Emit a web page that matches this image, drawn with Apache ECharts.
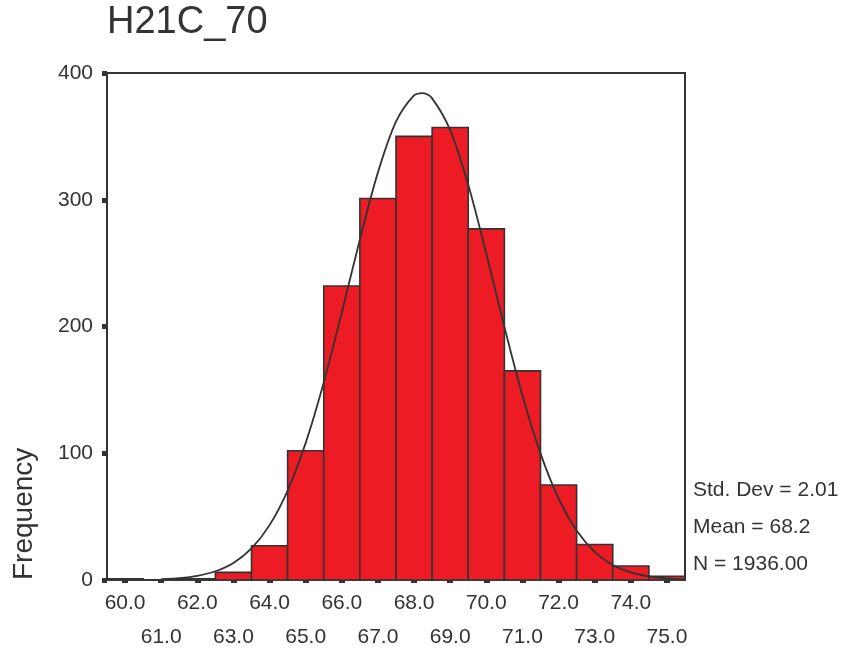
<!DOCTYPE html>
<html>
<head>
<meta charset="utf-8">
<script src="https://cdn.jsdelivr.net/npm/echarts@6/dist/echarts.min.js"></script>
<style>
html,body{margin:0;padding:0;background:#fff;}
#chart{width:841px;height:652px;}
</style>
</head>
<body>
<div id="chart"></div>
<script>
// ---- data ----
const chartTitle = 'H21C_70';
const binCenters = [60, 61, 62, 63, 64, 65, 66, 67, 68, 69, 70, 71, 72, 73, 74, 75];
const frequencies = [1, 0, 1, 6, 27, 102, 232, 301, 350, 357, 277, 165, 75, 28, 11, 3];
const curveX = [61.0, 61.5, 62.0, 62.5, 63.0, 63.5, 64.0, 64.5, 65.0, 65.5, 66.0, 66.5, 67.0, 67.5, 68.0, 68.25, 68.5, 69.0, 69.5, 70.0, 70.5, 71.0, 71.5, 72.0, 72.5, 73.0, 73.5, 74.0, 74.5, 75.0, 75.5];
const curveY = [0.6, 1.5, 3.3, 6.9, 13.5, 25.0, 43.3, 70.6, 108.2, 155.9, 211.1, 268.7, 321.6, 361.7, 382.4, 384.2, 380.0, 355.0, 311.8, 257.4, 199.7, 145.6, 99.9, 64.3, 39.0, 22.2, 11.9, 6.0, 2.8, 1.3, 0.5];
const xTickValues = [60, 61, 62, 63, 64, 65, 66, 67, 68, 69, 70, 71, 72, 73, 74, 75];
const xLabelsRow1 = [60, 62, 64, 66, 68, 70, 72, 74];
const xLabelsRow2 = [61, 63, 65, 67, 69, 71, 73, 75];
const statLines = ['Std. Dev = 2.01', 'Mean = 68.2', 'N = 1936.00'];
const yAxisName = 'Frequency';

const barData = binCenters.map((c, i) => [c, frequencies[i]]);
const curveData = curveX.map((x, i) => [x, curveY[i]]);

const FONT = '"Liberation Sans", Arial, sans-serif';
const TXT = '#333333';
const fmt = v => Number(v).toFixed(1);

const chart = echarts.init(document.getElementById('chart'));
chart.setOption({
  animation: false,
  backgroundColor: '#ffffff',
  grid: { left: 107, right: 156, top: 73, bottom: 72, show: true, borderColor: '#333', borderWidth: 2, backgroundColor: 'transparent', containLabel: false, outerBoundsMode: 'none' },
  xAxis: [
    {
      type: 'value', min: 59.5, max: 75.5, position: 'bottom',
      axisLine: { show: true, lineStyle: { color: '#555', width: 1 } },
      splitLine: { show: false },
      axisTick: { show: true, customValues: xTickValues, length: 3, lineStyle: { color: '#333', width: 6, cap: 'butt' } },
      axisLabel: {
        customValues: xLabelsRow1,
        showMinLabel: true, showMaxLabel: true, hideOverlap: false,
        margin: 9, fontSize: 21, color: TXT, fontFamily: FONT, lineHeight: 28,
        formatter: fmt
      }
    },
    {
      type: 'value', min: 59.5, max: 75.5, position: 'bottom',
      axisLine: { show: false },
      splitLine: { show: false },
      axisTick: { show: false },
      axisLabel: {
        customValues: xLabelsRow2,
        showMinLabel: true, showMaxLabel: true, hideOverlap: false,
        margin: 43, fontSize: 21, color: TXT, fontFamily: FONT, lineHeight: 28,
        formatter: fmt
      }
    }
  ],
  yAxis: {
    type: 'value', min: 0, max: 400, interval: 100,
    axisLine: { show: true, lineStyle: { color: '#333', width: 2 } },
    splitLine: { show: false },
    axisTick: { show: true, length: 5, lineStyle: { color: '#333', width: 5 } },
    axisLabel: { margin: 14, fontSize: 21, color: TXT, fontFamily: FONT }
  },
  series: [
    {
      type: 'custom',
      xAxisIndex: 0,
      data: barData,
      z: 2,
      renderItem: function (params, api) {
        const x = api.value(0), y = api.value(1);
        const p0 = api.coord([x - 0.5, y]);
        const p1 = api.coord([x + 0.5, 0]);
        return {
          type: 'rect',
          shape: { x: p0[0], y: p0[1], width: p1[0] - p0[0], height: p1[1] - p0[1] },
          style: { fill: '#ED1C24', stroke: '#333', lineWidth: 1.6 }
        };
      }
    },
    {
      type: 'line',
      xAxisIndex: 0,
      data: curveData,
      smooth: 0.3,
      showSymbol: false,
      z: 5,
      lineStyle: { color: '#333', width: 1.8 }
    }
  ],
  graphic: [
    { type: 'text', left: 107, top: 4, style: { text: chartTitle, font: '38px ' + FONT, fill: TXT } },
    { type: 'text', x: 24, y: 580, rotation: Math.PI / 2, style: { text: yAxisName, font: '28px ' + FONT, fill: TXT, textAlign: 'left', textVerticalAlign: 'middle' } },
    { type: 'text', x: 693, y: 490, style: { text: statLines[0], font: '21px ' + FONT, fill: TXT, textAlign: 'left', textVerticalAlign: 'middle' } },
    { type: 'text', x: 693, y: 527, style: { text: statLines[1], font: '21px ' + FONT, fill: TXT, textAlign: 'left', textVerticalAlign: 'middle' } },
    { type: 'text', x: 693, y: 564, style: { text: statLines[2], font: '21px ' + FONT, fill: TXT, textAlign: 'left', textVerticalAlign: 'middle' } }
  ]
});
</script>
</body>
</html>
